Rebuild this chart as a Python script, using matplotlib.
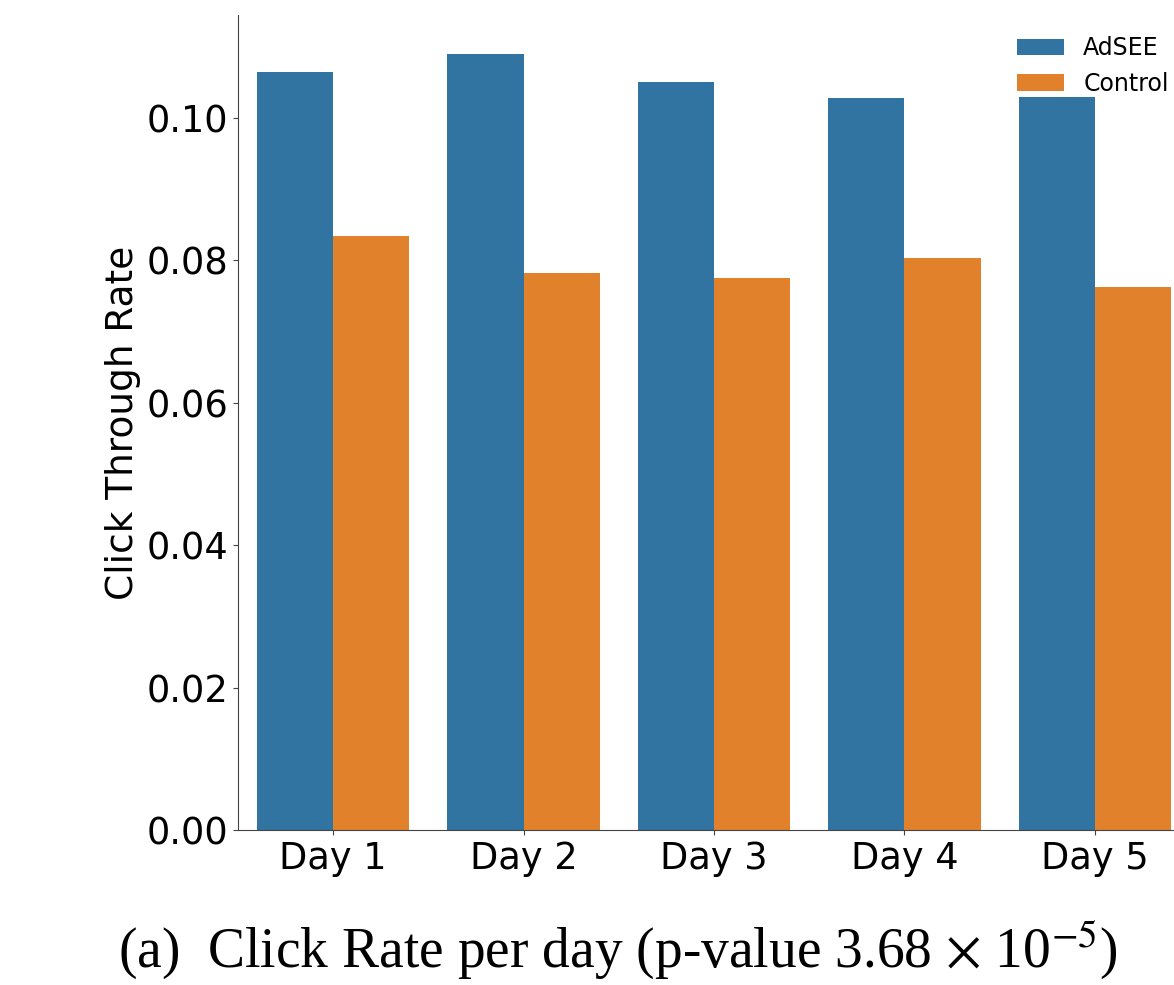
import matplotlib
matplotlib.use('Agg')
import matplotlib.pyplot as plt
import numpy as np

DAYS = ['Day 1', 'Day 2', 'Day 3', 'Day 4', 'Day 5']
ADSEE = [0.1065, 0.1090, 0.1051, 0.1028, 0.1030]
CONTROL = [0.0834, 0.0782, 0.0775, 0.0803, 0.0762]

BLUE = '#3274a1'
ORANGE = '#e1812c'

plt.rcParams['mathtext.fontset'] = 'stix'

fig = plt.figure(figsize=(11.74, 9.85), dpi=100)
# axes run a little past the right edge of the figure
ax = fig.add_axes([0.2027, 0.1574, 0.8109, 0.8274])

x = np.arange(len(DAYS))
w = 0.4
ax.bar(x - w / 2, ADSEE, w, color=BLUE, label='AdSEE')
ax.bar(x + w / 2, CONTROL, w, color=ORANGE, label='Control')

ax.set_xlim(-0.5, len(DAYS) - 0.5)
ax.set_ylim(0, max(ADSEE) * 1.05)
ax.set_xticks(x)
ax.set_xticklabels(DAYS)
ax.set_yticks(np.arange(0, 0.101, 0.02))
ax.set_yticklabels([f'{v:.2f}' for v in np.arange(0, 0.101, 0.02)])
ax.tick_params(labelsize=26.5, color='#444444')
ax.set_ylabel('Click Through Rate', fontsize=27)

for side in ['top', 'right']:
    ax.spines[side].set_visible(False)
for side in ['left', 'bottom']:
    ax.spines[side].set_color('#444444')

ax.legend(loc='upper right', frameon=False, fontsize=17)

fig.text(0.526, 0.036, r'(a)  Click Rate per day (p-value 3.68 $\times$ 10$^{-5}$)',
         ha='center', va='center', fontsize=40, family='Liberation Serif')

fig.savefig('out.png', dpi=100)
